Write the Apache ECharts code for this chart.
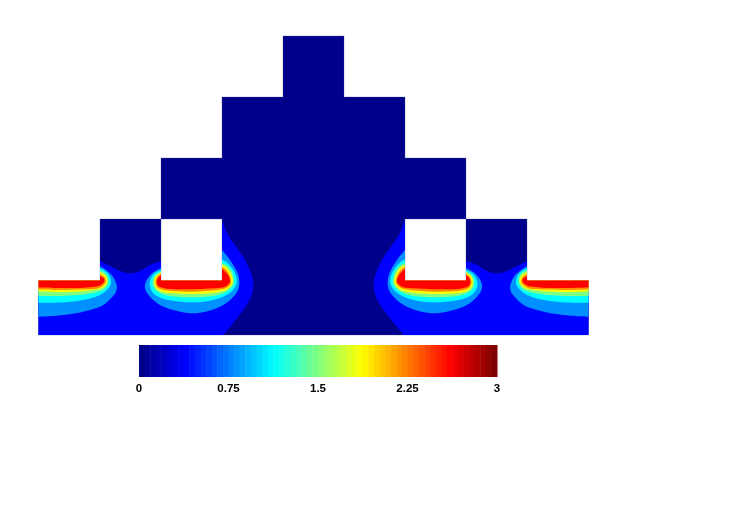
<!DOCTYPE html>
<html>
<head>
<meta charset="utf-8">
<style>html,body{margin:0;padding:0;background:#fff}#c{width:747px;height:528px}</style>
<script src="https://cdn.jsdelivr.net/npm/echarts@6/dist/echarts.min.js"></script>
</head>
<body>
<div id="c"></div>
<script>
// Field domain, in reading units (left half; the simulated field is symmetric about x = 313.5)
var xMin = 38.5, xMax = 588.5, yMin = 36, yMax = 335, symmetryX = 313.5;
var wallY = 280.5, holeLeft = 161, holeRight = 222, stepLeft = 100;

var domainLeft = [[38.5,335],[38.5,280.5],[100,280.5],[100,219],[161,219],[161,280.5],[222,280.5],[222,219],[161,219],[161,158],[222,158],[222,97],[283,97],[283,36]];

// Level contours: band name -> contour around the left step and around the hole
var blueStep = [[100,261],[110,266],[120,271],[125,272.7],[130,273.3],[135,272.7],[140,271],[150,265],[161,261]];
var blueHole = [[222,220],[228,235],[237,248],[245,260],[251.7,275],[253.3,285],[251.7,295],[246.7,305],[238,317],[230,327],[223,335]];

var lightStep = [[38.5,316.7],[56,315.7],[76,313.3],[96,308.3],[104,304.5],[109.3,300],[113.5,295.5],[116,291.7],[116.7,285],[112.5,276],[106,270],[100,266]];
var cyanStep = [[38.5,302.7],[60,302.5],[80,300.5],[95,297],[104,292.5],[110,286],[111,281],[109,275],[104.5,270.5],[100,268.5]];
var greenStep = [[38.5,296],[60,296],[80,295],[93,293],[103,290],[108.3,283.5],[107.5,276],[103,271.5],[100,270.5]];
var yellowStep = [[38.5,291.5],[60,292],[80,291.5],[93,290],[102,288],[107,283],[106.5,277],[102.5,273.5],[100,272.5]];
var orangeStep = [[38.5,289.5],[60,290],[80,289.5],[95,289],[102,286.5],[105.7,282.5],[105,278],[102,275],[100,274.3]];
var redStep = [[38.5,287.5],[60,288],[80,288],[92,287],[100,285.5],[104,282],[104.3,279],[102.5,277.5],[100,276]];

var lightHole = [[161,268],[153.3,272.3],[146.7,280],[145,288.3],[150,296.7],[160,305],[173.3,310],[190,313.3],[206.7,311.5],[223.3,305],[235,295],[239.3,285],[237.5,273],[230,260],[222,250]];
var cyanHole = [[161,270],[154,274],[150,281],[150,287],[154,294],[164,299],[178,301.5],[190,302.3],[206,301.5],[220,298],[231,292],[236.5,284],[236,276],[232,268],[227,262.5],[222,259.5]];
var greenHole = [[161,271.5],[155,275.5],[152.7,281],[153.5,287],[158,292],[167,295.5],[180,297],[190,297.3],[206,296.8],[220,294.5],[229,290],[234,283.5],[233.5,277],[231,270],[227,265.5],[222,263]];
var yellowHole = [[161,272.5],[156,276],[154.3,281],[155,286],[159,290.5],[168,293],[190,294],[206,293.5],[219,292],[227,289.5],[232,284],[232.5,279],[230.5,273],[226.5,267.5],[222,265]];
var orangeHole = [[161,273.5],[157,277],[155.5,281.5],[156.5,286],[160,289],[170,291],[190,291.7],[206,291],[218,290],[226,288],[230.5,284],[231,280],[229.5,275],[226,269.5],[222,266.7]];
var redHole = [[161,275],[158,278],[156.7,282],[158,285.5],[161,287.3],[170,289],[190,289.3],[206,288.7],[218,288],[225,286.7],[229,283.5],[230,280.5],[228.5,276],[225,271.5],[222,269]];

var bandColors = {navy:'#00008a', blue:'#0000ff', light:'#0090ff', cyan:'#00ffff', green:'#80ff80', yellow:'#ffff00', orange:'#ff8c00', red:'#ff0000'};

// Colour bar
var barTicks = [0, 0.75, 1.5, 2.25, 3];
var barRange = [0, 3];
var barSteps = 64;
var barStops = ['#00008a','#0000ff','#0080ff','#00ffff','#80ff80','#ffff00','#ff8000','#ff0000','#7f0000'];

function mirrorPts(points) {
  return points.map(function (p) { return [2 * symmetryX - p[0], p[1]]; }).reverse();
}
function mirrorRuns(runs) {
  return runs.map(function (r) { return {smooth: r.smooth, pts: mirrorPts(r.pts)}; }).reverse();
}
function line(pts) { return {smooth: false, pts: pts}; }
function curve(pts) { return {smooth: true, pts: pts}; }

var domainRuns = [line(domainLeft.concat(mirrorPts(domainLeft)))];
var blueLeft = [line([[xMin, yMax], [xMin, wallY], [stepLeft, wallY]]), curve(blueStep),
                line([[holeLeft, wallY], [holeRight, wallY]]), curve(blueHole)];

var shapes = [{color: bandColors.navy, runs: domainRuns, edge: true},
              {color: bandColors.blue, runs: blueLeft},
              {color: bandColors.blue, runs: mirrorRuns(blueLeft)}];
[['light', lightStep, lightHole], ['cyan', cyanStep, cyanHole], ['green', greenStep, greenHole],
 ['yellow', yellowStep, yellowHole], ['orange', orangeStep, orangeHole], ['red', redStep, redHole]].forEach(function (b) {
  var s = [curve(b[1]), line([[stepLeft, wallY], [xMin, wallY]])];
  var h = [curve(b[2]), line([[holeRight, wallY], [holeLeft, wallY]])];
  [s, h, mirrorRuns(s), mirrorRuns(h)].forEach(function (runs) {
    shapes.push({color: bandColors[b[0]], runs: runs});
  });
});

// SVG path through chart-space points; smooth runs are drawn as Catmull-Rom cubics
function toPath(runs, coord) {
  var d = '', started = false;
  runs.forEach(function (run) {
    var p = run.pts.map(coord);
    p.forEach(function (pt, i) {
      if (i === 0 || !run.smooth) {
        d += (started ? 'L' : 'M') + pt[0] + ' ' + pt[1] + ' ';
        started = true;
      } else {
        var p0 = p[Math.max(i - 2, 0)], p1 = p[i - 1], p3 = p[Math.min(i + 1, p.length - 1)];
        d += 'C' + (p1[0] + (pt[0] - p0[0]) / 6) + ' ' + (p1[1] + (pt[1] - p0[1]) / 6) + ' ' +
             (pt[0] - (p3[0] - p1[0]) / 6) + ' ' + (pt[1] - (p3[1] - p1[1]) / 6) + ' ' + pt[0] + ' ' + pt[1] + ' ';
      }
    });
  });
  return d + 'Z';
}

var barData = [];
for (var i = 0; i < barSteps; i++) {
  var lo = barRange[0] + (barRange[1] - barRange[0]) * i / barSteps;
  var hi = barRange[0] + (barRange[1] - barRange[0]) * (i + 1) / barSteps;
  barData.push([lo, hi, barRange[0] + (barRange[1] - barRange[0]) * i / (barSteps - 1)]);
}

var chart = echarts.init(document.getElementById('c'), null, {renderer: 'canvas'});
chart.setOption({
  backgroundColor: '#fff',
  animation: false,
  grid: [
    {left: 38.5, top: 36, width: 550, height: 299},
    {left: 139, top: 345, width: 358, height: 32}
  ],
  xAxis: [
    {gridIndex: 0, type: 'value', min: xMin, max: xMax, show: false},
    {gridIndex: 1, type: 'value', min: barRange[0], max: barRange[1], interval: 0.75,
     axisLine: {show: false}, axisTick: {show: false}, splitLine: {show: false},
     axisLabel: {show: true, margin: 6, color: '#000', fontFamily: 'Liberation Sans', fontSize: 11.5, fontWeight: 'bold',
       formatter: function (v) { return String(v); }}}
  ],
  yAxis: [
    {gridIndex: 0, type: 'value', min: yMin, max: yMax, inverse: true, show: false},
    {gridIndex: 1, type: 'value', min: 0, max: 1, show: false}
  ],
  visualMap: {show: false, seriesIndex: 1, dimension: 2, min: barRange[0], max: barRange[1], inRange: {color: barStops}},
  series: [
    {type: 'custom', xAxisIndex: 0, yAxisIndex: 0, silent: true, clip: false,
     data: shapes.map(function (s, i) { return [i]; }),
     renderItem: function (params, api) {
       var s = shapes[api.value(0)];
       return {type: 'path',
         shape: {pathData: toPath(s.runs, function (p) { return api.coord(p); })},
         style: {fill: s.color, stroke: s.edge ? 'rgba(70,70,170,0.3)' : null, lineWidth: 1}};
     }},
    {type: 'custom', xAxisIndex: 1, yAxisIndex: 1, silent: true, clip: false,
     encode: {x: [0, 1]},
     data: barData,
     renderItem: function (params, api) {
       var a = api.coord([api.value(0), 1]), b = api.coord([api.value(1), 0]);
       return {type: 'rect', shape: {x: a[0], y: a[1], width: b[0] - a[0] + 0.5, height: b[1] - a[1]},
         style: {fill: api.visual('color')}};
     }}
  ]
});
</script>
</body>
</html>
